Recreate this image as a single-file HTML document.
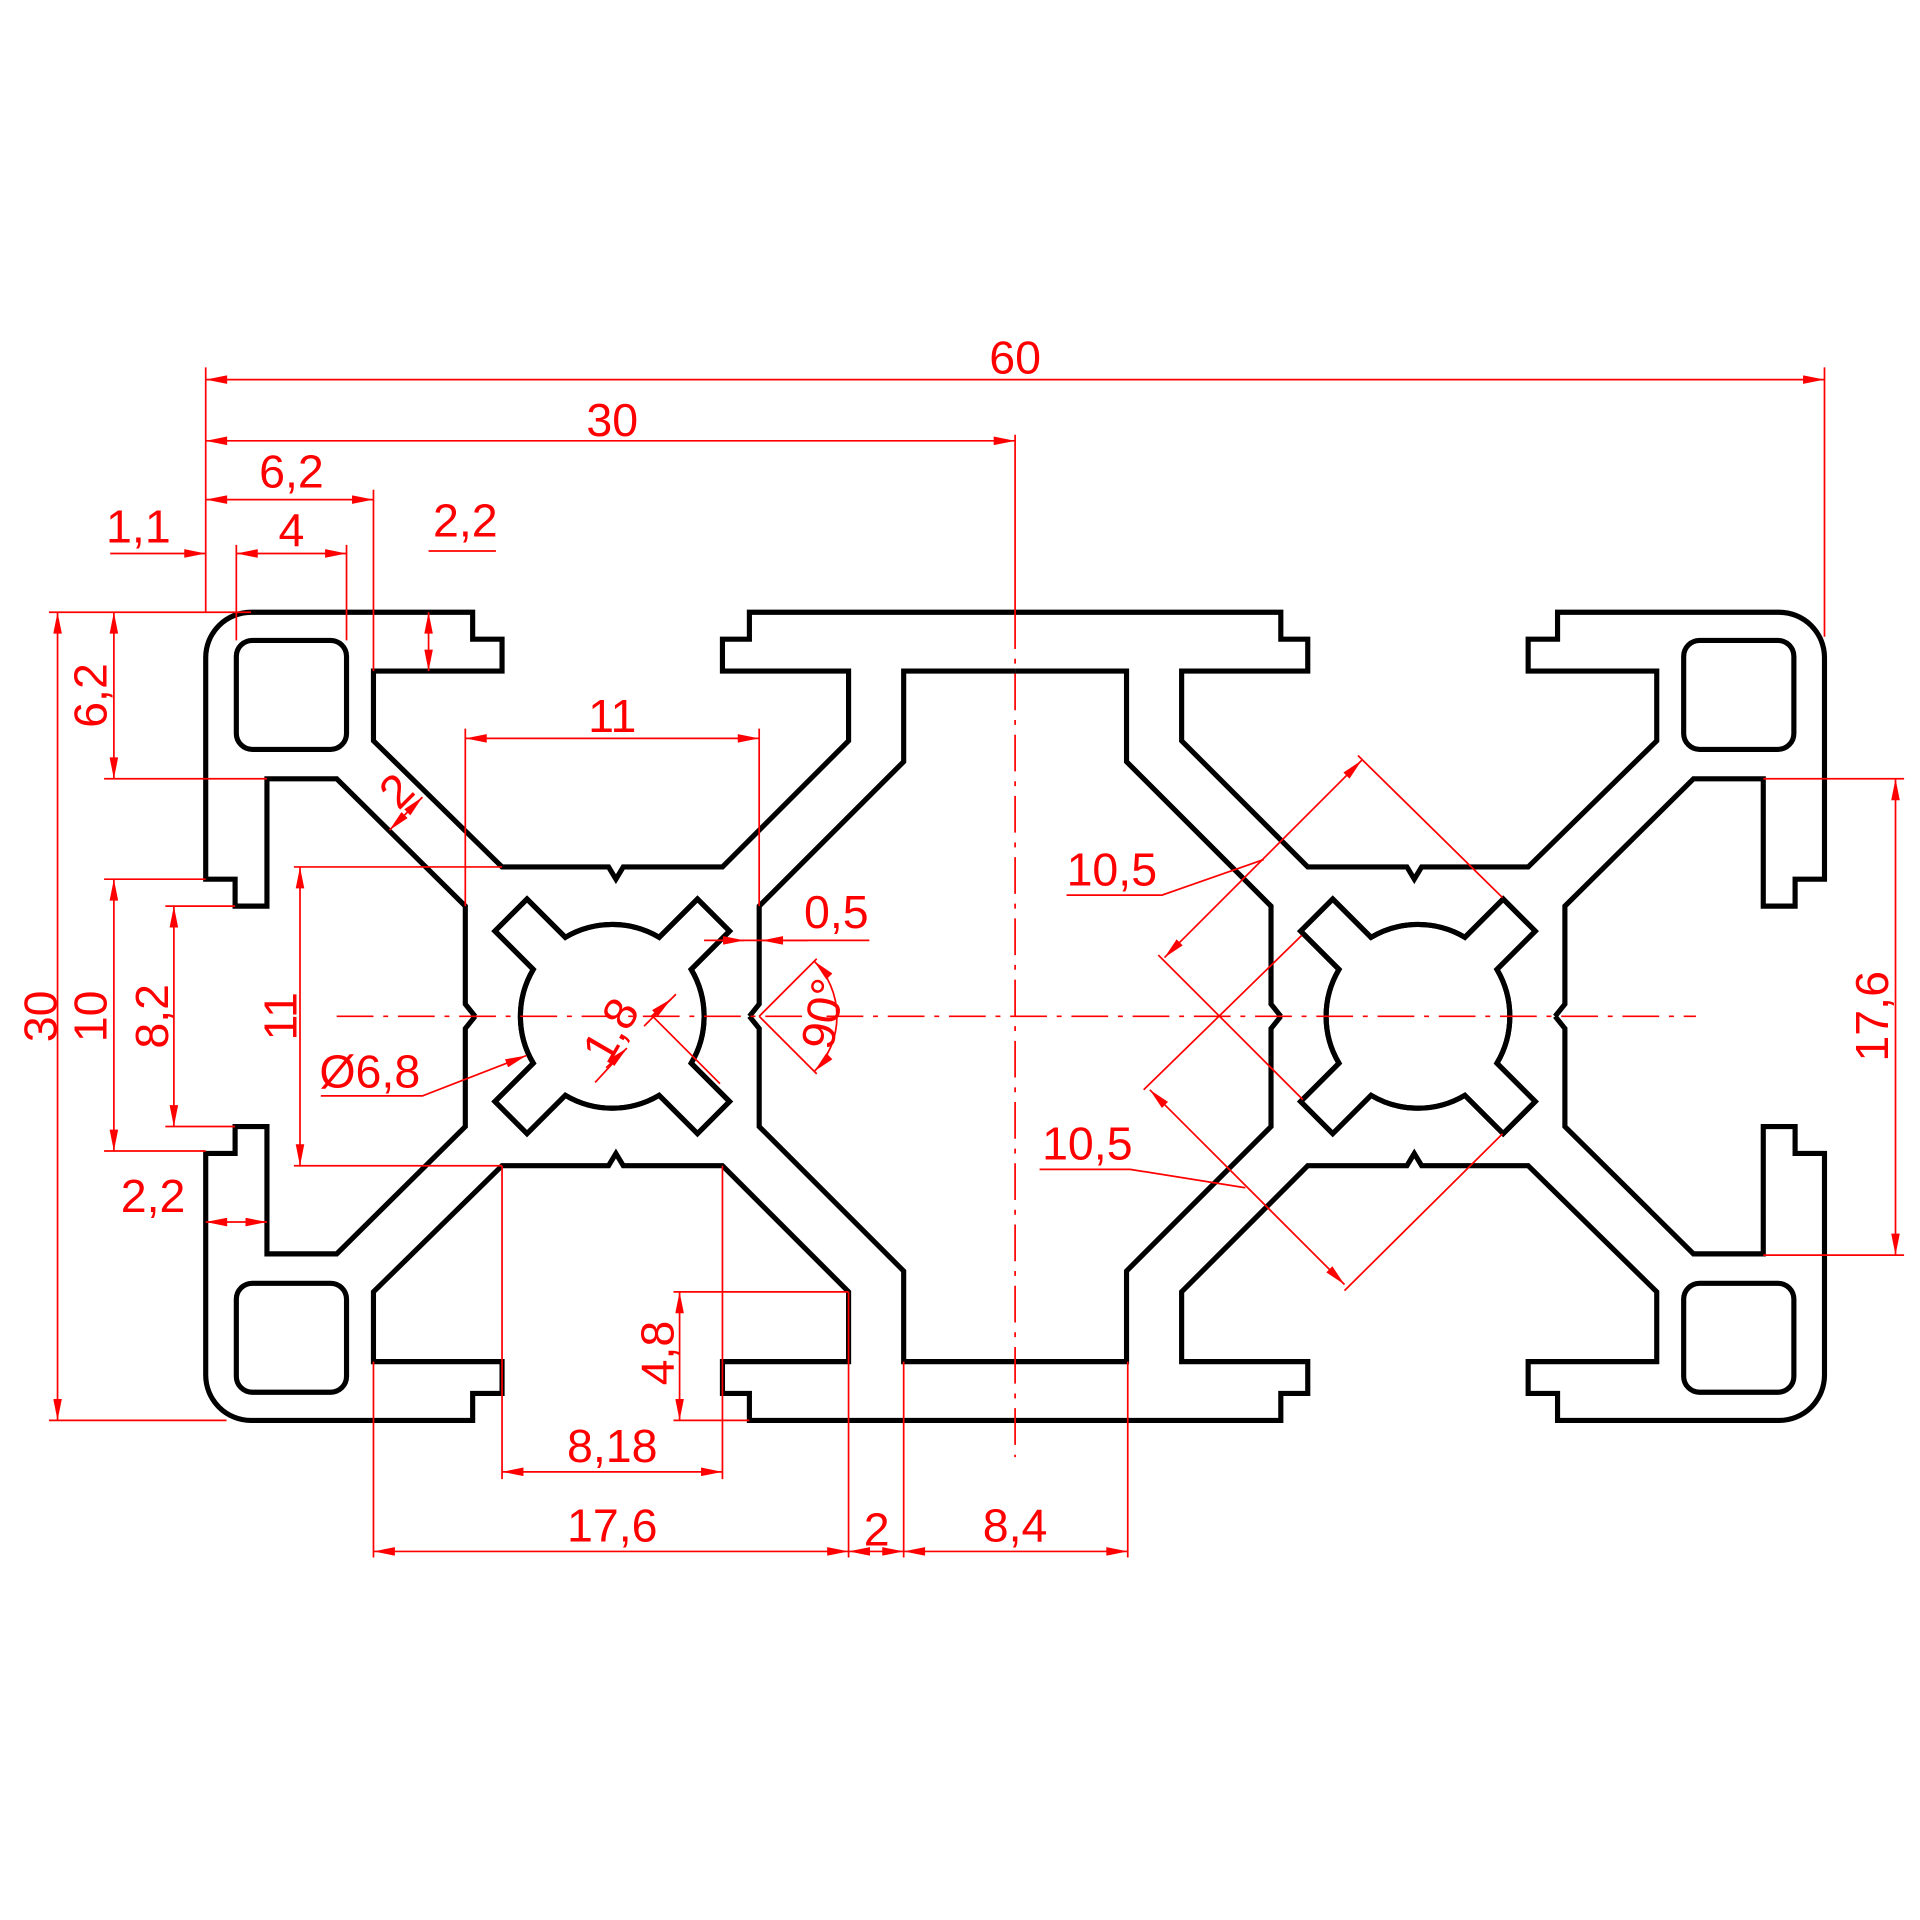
<!DOCTYPE html>
<html><head><meta charset="utf-8"><style>html,body{margin:0;padding:0;background:#fff}svg{display:block}</style></head>
<body>
<svg width="1920" height="1920" viewBox="0 0 1568 1568" xmlns="http://www.w3.org/2000/svg">
<defs>
<marker id="a" viewBox="0 0 10 4" refX="10" refY="2" markerWidth="18" markerHeight="7" markerUnits="userSpaceOnUse" orient="auto-start-reverse"><path d="M0,0 L10,2 L0,4 Z" fill="#f00"/></marker>
<g id="q" fill="none" stroke="#000" stroke-width="4.2" stroke-linejoin="miter">
<path d="M829,500 L612,500 L612,522 L590,522 L590,548 L693,548 L693,605 L590,708 L509,708 L503,718 L497,708 L410,708 L305,605 L305,548 L410,548 L410,522 L386,522 L386,500 L205,500 A37 37 0 0 0 168,537 L168,718 L192,718 L192,740 L218,740 L218,636 L275,636 L380,740 L380,820 L388,830"/>
<path d="M829,548 L738,548 L738,622 L620,740 L620,820 L612,830"/>
<rect x="193" y="523" width="90" height="89" rx="13"/>
<path transform="translate(500,830)" d="M-64.5,-38.3 L-95.8,-69.6 L-69.6,-95.8 L-38.3,-64.5 A75 75 0 0 1 38.3,-64.5 L69.6,-95.8 L95.8,-69.6 L64.5,-38.3 A75 75 0 0 1 64.5,38.3 L95.8,69.6 L69.6,95.8 L38.3,64.5 A75 75 0 0 1 -38.3,64.5 L-69.6,95.8 L-95.8,69.6 L-64.5,38.3 A75 75 0 0 1 -64.5,-38.3 Z"/>
</g>
</defs>
<use href="#q"/>
<use href="#q" transform="matrix(-1,0,0,1,1658,0)"/>
<use href="#q" transform="matrix(1,0,0,-1,0,1660)"/>
<use href="#q" transform="matrix(-1,0,0,-1,1658,1660)"/>

<g stroke="#f00" stroke-width="1.4" fill="none">
<path d="M275,830 H1385" stroke-dasharray="30,8,4,8"/>
<path d="M829,355 V500"/>
<path d="M829,500 V1190" stroke-dasharray="30,8,4,8"/>
<path d="M168,300 V500 M1490,300 V520 M305,400 V548 M193,445 V523 M283,445 V523 M350,450 H405"/>
<path d="M40,500 H205 M40,1160 H185 M85,636 H218 M85,718 H168 M85,940 H168 M135,740 H192 M135,920 H192 M240,708 H410 M240,952 H410"/>
<path d="M380,595 V740 M620,595 V740 M1440,636 H1555 M1440,1025 H1555"/>
<path d="M550,1055 H693 M550,1160 H612 M410,952 V1208 M590,952 V1208 M305,1112 V1272 M693,1055 V1272 M738,1112 V1272 M921,1112 V1272"/>
<path d="M595,768 H710"/>
<path d="M168,310 H1490" marker-start="url(#a)" marker-end="url(#a)"/>
<path d="M168,360 H829" marker-start="url(#a)" marker-end="url(#a)"/>
<path d="M168,408 H305" marker-start="url(#a)" marker-end="url(#a)"/>
<path d="M90,452 H168" marker-end="url(#a)"/>
<path d="M193,452 H283" marker-start="url(#a)" marker-end="url(#a)"/>
<path d="M350,500 V548" marker-start="url(#a)" marker-end="url(#a)"/>
<path d="M47,500 V1160" marker-start="url(#a)" marker-end="url(#a)"/>
<path d="M93,500 V636" marker-start="url(#a)" marker-end="url(#a)"/>
<path d="M93,718 V940" marker-start="url(#a)" marker-end="url(#a)"/>
<path d="M142,740 V920" marker-start="url(#a)" marker-end="url(#a)"/>
<path d="M245,708 V952" marker-start="url(#a)" marker-end="url(#a)"/>
<path d="M168,998 H218" marker-start="url(#a)" marker-end="url(#a)"/>
<path d="M380,603 H620" marker-start="url(#a)" marker-end="url(#a)"/>
<path d="M1548,636 V1025" marker-start="url(#a)" marker-end="url(#a)"/>
<path d="M555,1055 V1160" marker-start="url(#a)" marker-end="url(#a)"/>
<path d="M410,1202 H590" marker-start="url(#a)" marker-end="url(#a)"/>
<path d="M305,1267 H693" marker-start="url(#a)" marker-end="url(#a)"/>
<path d="M693,1267 H738" marker-start="url(#a)" marker-end="url(#a)"/>
<path d="M738,1267 H921" marker-start="url(#a)" marker-end="url(#a)"/>
<path d="M575,768 H608" marker-end="url(#a)"/>
<path d="M660,768 H622" marker-end="url(#a)"/>
<path d="M318,678 L345,651" marker-start="url(#a)" marker-end="url(#a)"/>
<path d="M620,830 L667,783 M620,830 L667,877"/>
<path d="M665,785 A64 64 0 0 1 665,875" marker-start="url(#a)" marker-end="url(#a)"/>
<path d="M526,838 L552,812 M510,858 L486,884"/>
<path d="M532,830 L548,816" marker-end="url(#a)"/>
<path d="M512,856 L495,872" marker-start="url(#a)"/>
<path d="M533,830 L588,885"/>
<path d="M262,895 H345 L430,862" marker-end="url(#a)"/>
<path d="M1112,621 L951,782" marker-start="url(#a)" marker-end="url(#a)"/>
<path d="M1109,617 L1227,733 M946,780 L1064,898"/>
<path d="M871,731 H949 L1032,702"/>
<path d="M939,890 L1098,1049" marker-start="url(#a)" marker-end="url(#a)"/>
<path d="M934,890 L1063,764 M1098,1054 L1227,926"/>
<path d="M849,955 H923 L1017,970"/>
</g>

<g fill="#f00" font-family="Liberation Sans, sans-serif" font-size="38" text-anchor="middle">
<text x="829" y="305">60</text>
<text x="500" y="356">30</text>
<text x="238" y="398">6,2</text>
<text x="113" y="443">1,1</text>
<text x="238" y="446">4</text>
<text x="380" y="438">2,2</text>
<text x="500" y="598">11</text>
<text x="683" y="758">0,5</text>
<text x="125" y="990">2,2</text>
<text x="302" y="888">Ø6,8</text>
<text x="908" y="723">10,5</text>
<text x="888" y="947">10,5</text>
<text x="500" y="1194">8,18</text>
<text x="500" y="1259">17,6</text>
<text x="716" y="1262">2</text>
<text x="829" y="1259">8,4</text>
<text transform="translate(46,830) rotate(-90)">30</text>
<text transform="translate(87,568) rotate(-90)">6,2</text>
<text transform="translate(87,830) rotate(-90)">10</text>
<text transform="translate(137,830) rotate(-90)">8,2</text>
<text transform="translate(242,830) rotate(-90)">11</text>
<text transform="translate(1542,830) rotate(-90)">17,6</text>
<text transform="translate(550,1105) rotate(-90)">4,8</text>
<text transform="translate(333,655) rotate(-45)">2</text>
<text transform="translate(510,848) rotate(-60)">1,8</text>
<text transform="translate(685,830) rotate(-80)">90°</text>
</g>
</svg>
</body></html>
